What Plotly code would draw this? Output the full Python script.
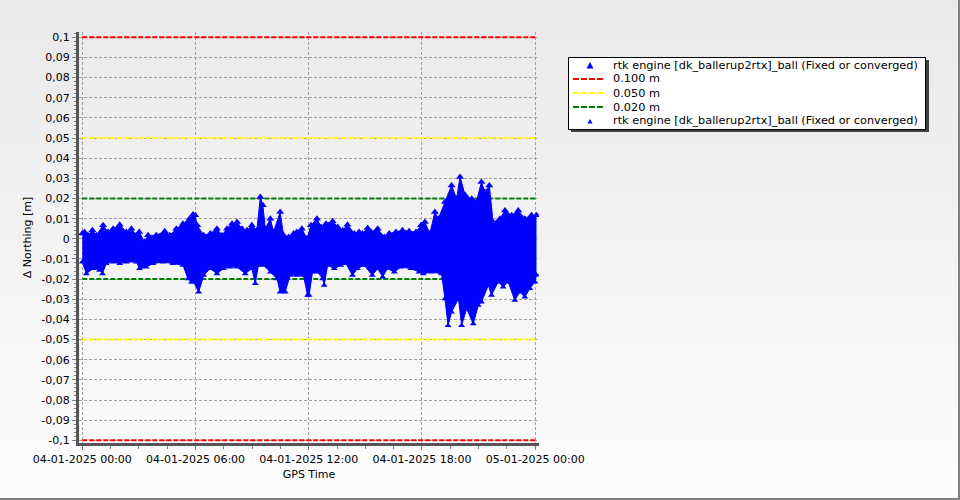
import plotly.graph_objects as go
from datetime import datetime, timedelta

BASE = datetime(2025, 1, 4)

# ---- data ----
# upper envelope of the rtk engine northing error: minutes after 04-01-2025 00:00, value [m]
upper_min = [0, 7, 18, 32, 45, 66, 82, 98, 119, 140, 156, 172, 181, 198, 209, 235, 262, 278, 299, 320,
             341, 352, 359, 365, 386, 407, 428, 444, 460, 476, 492, 508, 524, 539, 555, 566, 574, 582, 598, 608,
             629, 640, 656, 672, 682, 698, 714, 727, 746, 759, 775, 796, 812, 828, 843, 865, 880, 891, 907, 918,
             939, 960, 976, 997, 1018, 1039, 1061, 1077, 1089, 1105, 1121, 1132, 1153, 1174, 1190, 1201, 1217, 1238, 1253, 1269,
             1280, 1294, 1306, 1328, 1344, 1365, 1386, 1407, 1428, 1444]
upper_val = [0.0026, 0.0034, 0.0017, 0.0042, 0.0017, 0.0067, 0.0034, 0.0050, 0.0070, 0.0034,
             0.0050, 0.0017, 0.0034, -0.0016, 0.0017, 0.0017, 0.0037, 0.0017, 0.0050, 0.0075,
             0.0100, 0.0120, 0.0117, 0.0067, 0.0017, 0.0026, 0.0050, 0.0017, 0.0050, 0.0075,
             0.0083, 0.0050, 0.0042, 0.0067, 0.0042, 0.0207, 0.0166, 0.0050, 0.0100, 0.0034,
             0.0133, 0.0017, 0.0009, 0.0026, 0.0034, 0.0050, 0.0001, 0.0067, 0.0100, 0.0059,
             0.0075, 0.0087, 0.0059, 0.0042, 0.0070, 0.0026, 0.0034, 0.0026, 0.0054, 0.0034,
             0.0050, 0.0009, 0.0026, 0.0034, 0.0042, 0.0037, 0.0034, 0.0067, 0.0083, 0.0026,
             0.0133, 0.0100, 0.0183, 0.0265, 0.0199, 0.0307, 0.0217, 0.0199, 0.0183, 0.0282,
             0.0232, 0.0265, 0.0083, 0.0100, 0.0141, 0.0117, 0.0141, 0.0100, 0.0117, 0.0117]

# lower envelope
lower_min = [0, 13, 34, 55, 64, 76, 98, 119, 140, 172, 182, 203, 225, 257, 288, 320, 336, 347, 354, 370,
             386, 407, 428, 449, 470, 492, 518, 539, 550, 560, 576, 598, 619, 629, 645, 661, 682, 703, 716, 721,
             732, 748, 764, 769, 780, 801, 822, 838, 859, 875, 896, 922, 939, 955, 970, 992, 1013, 1045, 1071, 1084,
             1110, 1142, 1153, 1163, 1174, 1196, 1206, 1222, 1243, 1259, 1269, 1291, 1301, 1322, 1338, 1354, 1375, 1391, 1407, 1423,
             1439, 1444]
lower_val = [-0.0115, -0.0173, -0.0148, -0.0156, -0.0173, -0.0123, -0.0115, -0.0123, -0.0115, -0.0115,
             -0.0148, -0.0140, -0.0123, -0.0115, -0.0123, -0.0131, -0.0198, -0.0214, -0.0214, -0.0264,
             -0.0181, -0.0148, -0.0173, -0.0148, -0.0140, -0.0140, -0.0173, -0.0148, -0.0222, -0.0131,
             -0.0131, -0.0165, -0.0198, -0.0264, -0.0264, -0.0181, -0.0181, -0.0181, -0.0280, -0.0280,
             -0.0165, -0.0165, -0.0198, -0.0230, -0.0131, -0.0148, -0.0131, -0.0123, -0.0181, -0.0148,
             -0.0131, -0.0181, -0.0148, -0.0189, -0.0148, -0.0165, -0.0140, -0.0148, -0.0165, -0.0173,
             -0.0165, -0.0173, -0.0297, -0.0430, -0.0363, -0.0297, -0.0430, -0.0347, -0.0422, -0.0330,
             -0.0314, -0.0231, -0.0280, -0.0214, -0.0239, -0.0214, -0.0305, -0.0264, -0.0289, -0.0247,
             -0.0214, -0.0180]

series_name = "rtk engine [dk_ballerup2rtx]_ball (Fixed or converged)"
threshold_vals = [0.1, 0.05, 0.02]
threshold_names = ["0.100 m", "0.050 m", "0.020 m"]
threshold_colors = ["#ff0000", "#ffff00", "#008000"]

ytick_vals = [0.1, 0.09, 0.08, 0.07, 0.06, 0.05, 0.04, 0.03, 0.02, 0.01, 0.0,
              -0.01, -0.02, -0.03, -0.04, -0.05, -0.06, -0.07, -0.08, -0.09, -0.1]
ytick_text = ["0,1", "0,09", "0,08", "0,07", "0,06", "0,05", "0,04", "0,03", "0,02", "0,01", "0",
              "-0,01", "-0,02", "-0,03", "-0,04", "-0,05", "-0,06", "-0,07", "-0,08", "-0,09", "-0,1"]

upper_t = [BASE + timedelta(minutes=m) for m in upper_min]
lower_t = [BASE + timedelta(minutes=m) for m in lower_min]
t_start, t_end = BASE, BASE + timedelta(hours=24)

BLUE = "#0000ff"
FONT = "DejaVu Sans"

# ---- layout geometry (pixels) ----
W, H = 960, 500
L, R, T, B = 79, 421, 32, 57
PW, PH = W - L - R, H - T - B


def xp(px):
    return (px - L) / PW


def yp(py):
    return (H - B - py) / PH


fig = go.Figure()

for v, c, n in zip(threshold_vals, threshold_colors, threshold_names):
    fig.add_trace(go.Scatter(
        x=[t_start, t_end, None, t_start, t_end], y=[v, v, None, -v, -v],
        mode="lines", name=n, showlegend=False, hoverinfo="skip",
        line=dict(color=c, width=2, dash="5px,2px")))

fig.add_trace(go.Scatter(x=lower_t, y=lower_val, mode="lines", showlegend=False,
                         line=dict(color=BLUE, width=1), hoverinfo="skip"))
fig.add_trace(go.Scatter(x=upper_t, y=upper_val, mode="lines", showlegend=False,
                         fill="tonexty", fillcolor=BLUE,
                         line=dict(color=BLUE, width=1), hoverinfo="skip"))
fig.add_trace(go.Scatter(x=upper_t, y=upper_val, mode="markers", name=series_name, showlegend=False,
                         marker=dict(symbol="triangle-up", size=7, color=BLUE)))
fig.add_trace(go.Scatter(x=lower_t, y=lower_val, mode="markers", name=series_name, showlegend=False,
                         marker=dict(symbol="triangle-up", size=6, color=BLUE)))

shapes = []
# background gradient
NB = 50
for i in range(NB):
    y0 = i * H / NB
    y1 = (i + 1) * H / NB
    g = int(round(233 + (253 - 233) * (i + 0.5) / NB))
    shapes.append(dict(type="rect", xref="paper", yref="paper", layer="below",
                       x0=xp(0), x1=xp(W), y0=yp(y1), y1=yp(y0),
                       fillcolor=f"rgb({g},{g},{g})", line=dict(width=0)))
# outer border (right / bottom)
shapes.append(dict(type="line", xref="paper", yref="paper", x0=xp(959), x1=xp(959), y0=yp(0), y1=yp(500),
                   line=dict(color="#808080", width=2)))
shapes.append(dict(type="line", xref="paper", yref="paper", x0=xp(0), x1=xp(960), y0=yp(499), y1=yp(499),
                   line=dict(color="#808080", width=2)))
# legend box with shadow
shapes.append(dict(type="rect", xref="paper", yref="paper", x0=xp(571), x1=xp(929), y0=yp(132), y1=yp(60),
                   fillcolor="#404040", line=dict(width=0)))
shapes.append(dict(type="rect", xref="paper", yref="paper", x0=xp(568.5), x1=xp(925.5), y0=yp(129.5), y1=yp(57.5),
                   fillcolor="white", line=dict(color="black", width=1)))

rows = [65, 79, 93, 107, 121]
labels = [series_name] + threshold_names + [series_name]
annotations = []
for ry, lab in zip(rows, labels):
    annotations.append(dict(x=xp(611), y=yp(ry), xref="paper", yref="paper", text=lab,
                            showarrow=False, xanchor="left", yanchor="middle",
                            font=dict(family=FONT, size=11.3, color="black")))
# legend symbols
shapes.append(dict(type="path", xref="paper", yref="paper", xsizemode="pixel", ysizemode="pixel",
                   xanchor=xp(590), yanchor=yp(65.5), path="M -3.5,-3 L 3.5,-3 L 0,3.5 Z",
                   fillcolor=BLUE, line=dict(width=0)))
shapes.append(dict(type="path", xref="paper", yref="paper", xsizemode="pixel", ysizemode="pixel",
                   xanchor=xp(590), yanchor=yp(121.5), path="M -2.5,-2 L 2.5,-2 L 0,2.5 Z",
                   fillcolor=BLUE, line=dict(width=0)))
for ry, c in zip(rows[1:4], threshold_colors):
    shapes.append(dict(type="line", xref="paper", yref="paper", x0=xp(573), x1=xp(603),
                       y0=yp(ry), y1=yp(ry), line=dict(color=c, width=2, dash="6px,2px")))

fig.update_layout(
    width=W, height=H, autosize=False,
    margin=dict(l=L, r=R, t=T, b=B, pad=0),
    paper_bgcolor="rgb(243,243,243)", plot_bgcolor="rgba(0,0,0,0)",
    showlegend=False, shapes=shapes, annotations=annotations,
    font=dict(family=FONT, size=11, color="black"),
    xaxis=dict(
        type="date",
        range=[BASE - timedelta(minutes=10.5), BASE + timedelta(hours=24, minutes=12)],
        tickformat="%d-%m-%Y %H:%M", dtick=6 * 3600 * 1000, tick0=BASE,
        ticks="outside", ticklen=4, tickcolor="#808080",
        showline=True, linewidth=3, linecolor="#555555",
        showgrid=True, gridcolor="#a0a0a0", griddash="3px,2px", gridwidth=1,
        zeroline=False,
        minor=dict(dtick=90 * 60 * 1000, tick0=BASE, ticks="outside", ticklen=3,
                   tickcolor="#808080", showgrid=False),
        tickfont=dict(family=FONT, size=11, color="black"),
        title=dict(text="GPS Time", font=dict(family=FONT, size=11, color="black"), standoff=6),
    ),
    yaxis=dict(
        range=[-0.10134, 0.10263],
        tickmode="array", tickvals=ytick_vals, ticktext=ytick_text,
        ticks="outside", ticklen=4, tickcolor="#808080",
        showline=True, linewidth=3, linecolor="#555555",
        showgrid=True, gridcolor="#a0a0a0", griddash="3px,2px", gridwidth=1,
        zeroline=False,
        minor=dict(dtick=0.002, tick0=0, ticks="outside", ticklen=2,
                   tickcolor="#808080", showgrid=False),
        tickfont=dict(family=FONT, size=11, color="black"),
        title=dict(text="Δ Northing [m]", font=dict(family=FONT, size=11, color="black"), standoff=8),
    ),
)

fig.write_html("out.html", config={"displayModeBar": False},
               post_script="document.body.style.margin='0';document.body.style.overflow='hidden';")
